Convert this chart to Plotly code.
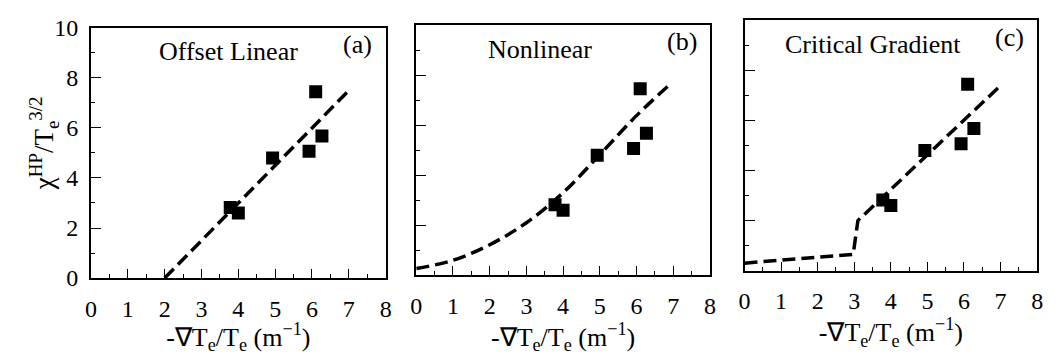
import plotly.graph_objects as go

# Measured transport points (same set in every panel)
grad_x = [3.78, 4.00, 4.93, 5.92, 6.10, 6.27]
chi_y = [2.82, 2.60, 4.80, 5.07, 7.45, 5.68]

# Model curves
offset_x = [2.0, 6.95]
offset_y = [0.0, 7.42]

nonlin_x = [0, 1, 2, 3, 4, 5, 6, 6.95]
nonlin_y = [0.27, 0.60, 1.22, 2.10, 3.30, 4.82, 6.38, 7.68]

crit_x = [0.0, 2.97, 3.10, 6.95]
crit_y = [0.30, 0.65, 2.00, 7.33]

panel_titles = ["Offset Linear", "Nonlinear", "Critical Gradient"]
panel_tags = ["(a)", "(b)", "(c)"]
x_ticks = [0, 1, 2, 3, 4, 5, 6, 7, 8]
y_ticks = [0, 2, 4, 6, 8, 10]

FONT = "Liberation Serif"
W, H = 1057, 355

# pixel boxes of the three panels: (left, right, top, bottom)
boxes = [(86, 384, 16, 286), (415, 712, 13, 283), (747, 1043, 8, 278)]
title_rel_x = [0.465, 0.42, 0.44]

fig = go.Figure()
curves = [(offset_x, offset_y), (nonlin_x, nonlin_y), (crit_x, crit_y)]

for i, (cx, cy) in enumerate(curves):
    suffix = "" if i == 0 else str(i + 1)
    fig.add_trace(go.Scatter(
        x=cx, y=cy, mode="lines",
        line=dict(color="black", width=3.5, dash="13px,6px",
                  shape="spline" if i == 1 else "linear"),
        xaxis="x" + suffix, yaxis="y" + suffix, showlegend=False,
    ))
    fig.add_trace(go.Scatter(
        x=grad_x, y=chi_y, mode="markers",
        marker=dict(symbol="square", size=13, color="black"),
        xaxis="x" + suffix, yaxis="y" + suffix, showlegend=False,
    ))

layout = dict(
    width=W, height=H,
    margin=dict(l=0, r=0, t=0, b=0),
    paper_bgcolor="white", plot_bgcolor="white",
    font=dict(family=FONT, color="black"),
)

annotations = []
for i, (l, r, t, b) in enumerate(boxes):
    suffix = "" if i == 0 else str(i + 1)
    xd = [l / W, r / W]
    yd = [(H - b) / H, (H - t) / H]
    layout["xaxis" + suffix] = dict(
        domain=xd, range=[0, 8], anchor="y" + suffix,
        tickvals=x_ticks, ticktext=[str(v) for v in x_ticks],
        ticks="inside", ticklen=9, tickwidth=1.2, tickcolor="black",
        minor=dict(dtick=0.5, tick0=0, ticks="inside", ticklen=4,
                   tickcolor="black", tickwidth=1),
        showline=True, linecolor="black", linewidth=2, mirror=True,
        showgrid=False, zeroline=False,
        ticklabelstandoff=8,
        tickfont=dict(family=FONT, size=24, color="black"),
        title=dict(text="-∇T<sub>e</sub>/T<sub>e</sub> (m<sup>−1</sup>)",
                   font=dict(family=FONT, size=26, color="black"), standoff=0),
    )
    layout["yaxis" + suffix] = dict(
        domain=yd, range=[0, 10], anchor="x" + suffix,
        tickvals=y_ticks, ticktext=[str(v) for v in y_ticks],
        showticklabels=(i == 0),
        ticks="inside", ticklen=10, tickwidth=1.2, tickcolor="black",
        minor=dict(dtick=1, tick0=0, ticks="inside", ticklen=4,
                   tickcolor="black", tickwidth=1),
        showline=True, linecolor="black", linewidth=2, mirror=True,
        showgrid=False, zeroline=False,
        ticklabelstandoff=6,
        tickfont=dict(family=FONT, size=24, color="black"),
    )
    # panel title and tag
    annotations.append(dict(
        text=panel_titles[i], x=(l + (r - l) * title_rel_x[i]) / W, y=(H - t - 26) / H,
        xref="paper", yref="paper", showarrow=False,
        font=dict(family=FONT, size=26, color="black"), xanchor="center", yanchor="middle"))
    annotations.append(dict(
        text=panel_tags[i], x=(r - 28) / W, y=(H - t - 18) / H,
        xref="paper", yref="paper", showarrow=False,
        font=dict(family=FONT, size=26, color="black"), xanchor="center", yanchor="middle"))

# y-axis label of the first panel
annotations.append(dict(
    text="χ<sup>HP</sup>/T<sub>e</sub><sup>3/2</sup>", textangle=-90,
    x=38 / W, y=(H - 141) / H, xref="paper", yref="paper", showarrow=False,
    font=dict(family=FONT, size=27, color="black"), xanchor="center", yanchor="middle"))

layout["annotations"] = annotations
fig.update_layout(**layout)
fig.write_html("out.html")
